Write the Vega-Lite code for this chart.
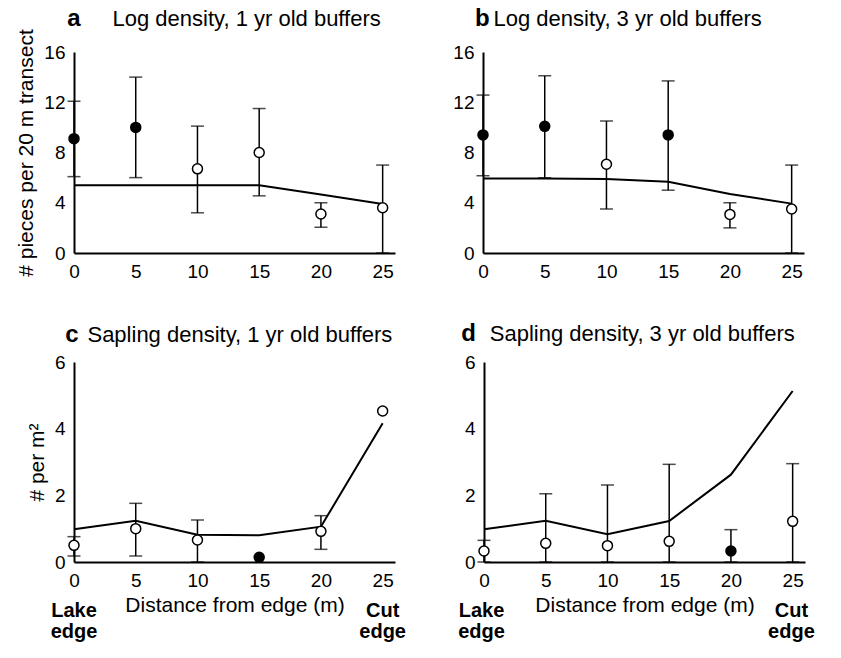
{
  "$schema": "https://vega.github.io/schema/vega-lite/v6.json",
  "background": "white",
  "padding": {"left": 15, "top": 7, "right": 0, "bottom": 0},
  "data": {"values": [
    {"p": "a", "x": 0, "m": 9.1, "lo": 6.08, "hi": 12.08, "t": "filled", "fit": 5.4},
    {"p": "a", "x": 5, "m": 10.0, "lo": 6.0, "hi": 14.0, "t": "filled", "fit": 5.4},
    {"p": "a", "x": 10, "m": 6.7, "lo": 3.2, "hi": 10.1, "t": "open", "fit": 5.4},
    {"p": "a", "x": 15, "m": 8.0, "lo": 4.55, "hi": 11.5, "t": "open", "fit": 5.4},
    {"p": "a", "x": 20, "m": 3.1, "lo": 2.05, "hi": 4.0, "t": "open", "fit": 4.65},
    {"p": "a", "x": 25, "m": 3.6, "lo": 0, "hi": 7.0, "t": "open", "fit": 3.9},
    {"p": "b", "x": 0, "m": 9.4, "lo": 6.15, "hi": 12.57, "t": "filled", "fit": 5.94},
    {"p": "b", "x": 5, "m": 10.08, "lo": 6.0, "hi": 14.1, "t": "filled", "fit": 5.94},
    {"p": "b", "x": 10, "m": 7.06, "lo": 3.5, "hi": 10.5, "t": "open", "fit": 5.9},
    {"p": "b", "x": 15, "m": 9.4, "lo": 5.0, "hi": 13.7, "t": "filled", "fit": 5.67},
    {"p": "b", "x": 20, "m": 3.07, "lo": 2.0, "hi": 4.0, "t": "open", "fit": 4.7},
    {"p": "b", "x": 25, "m": 3.5, "lo": 0, "hi": 7.0, "t": "open", "fit": 3.93},
    {"p": "c", "x": 0, "m": 0.5, "lo": 0.18, "hi": 0.76, "t": "open", "fit": 0.98},
    {"p": "c", "x": 5, "m": 1.0, "lo": 0.18, "hi": 1.76, "t": "open", "fit": 1.24},
    {"p": "c", "x": 10, "m": 0.66, "lo": 0, "hi": 1.26, "t": "open", "fit": 0.82},
    {"p": "c", "x": 15, "m": 0.14, "lo": null, "hi": null, "t": "filled", "fit": 0.8},
    {"p": "c", "x": 20, "m": 0.92, "lo": 0.38, "hi": 1.39, "t": "open", "fit": 1.06},
    {"p": "c", "x": 25, "m": 4.53, "lo": null, "hi": null, "t": "open", "fit": 4.16},
    {"p": "d", "x": 0, "m": 0.33, "lo": 0, "hi": 0.65, "t": "open", "fit": 0.98},
    {"p": "d", "x": 5, "m": 0.56, "lo": 0, "hi": 2.05, "t": "open", "fit": 1.24},
    {"p": "d", "x": 10, "m": 0.49, "lo": 0, "hi": 2.31, "t": "open", "fit": 0.83},
    {"p": "d", "x": 15, "m": 0.62, "lo": 0, "hi": 2.93, "t": "open", "fit": 1.23},
    {"p": "d", "x": 20, "m": 0.33, "lo": 0, "hi": 0.97, "t": "filled", "fit": 2.62},
    {"p": "d", "x": 25, "m": 1.22, "lo": 0, "hi": 2.95, "t": "open", "fit": 5.13}
  ]},
  "vconcat": [
    {"spacing": 57, "hconcat": [
      {"width": 321, "height": 201, "layer": [
        {"transform": [{"filter": "datum.p == 'a'"}], "mark": {"type": "line", "color": "black", "strokeWidth": 2},
         "encoding": {"x": {"field": "x", "type": "quantitative", "scale": {"domain": [0, 25]}, "axis": {"values": [0, 5, 10, 15, 20, 25], "title": null, "labelFlush": false}},
                      "y": {"field": "fit", "type": "quantitative", "scale": {"domain": [0, 16]}, "axis": {"values": [0, 4, 8, 12, 16], "title": "# pieces per 20 m transect"}}}},
        {"transform": [{"filter": "datum.p == 'a' && datum.lo != null"}], "mark": {"type": "rule", "color": "black", "strokeWidth": 1.5},
         "encoding": {"x": {"field": "x", "type": "quantitative"}, "y": {"field": "lo", "type": "quantitative", "axis": {"values": [0, 4, 8, 12, 16], "title": "# pieces per 20 m transect"}}, "y2": {"field": "hi"}}},
        {"transform": [{"filter": "datum.p == 'a' && datum.lo != null"}], "mark": {"type": "tick", "orient": "horizontal", "size": 13, "thickness": 1.5, "color": "black"},
         "encoding": {"x": {"field": "x", "type": "quantitative"}, "y": {"field": "lo", "type": "quantitative", "axis": {"values": [0, 4, 8, 12, 16], "title": "# pieces per 20 m transect"}}}},
        {"transform": [{"filter": "datum.p == 'a' && datum.hi != null"}], "mark": {"type": "tick", "orient": "horizontal", "size": 13, "thickness": 1.5, "color": "black"},
         "encoding": {"x": {"field": "x", "type": "quantitative"}, "y": {"field": "hi", "type": "quantitative", "axis": {"values": [0, 4, 8, 12, 16], "title": "# pieces per 20 m transect"}}}},
        {"transform": [{"filter": "datum.p == 'a'"}], "mark": {"type": "point", "shape": "circle", "filled": true, "size": 100, "stroke": "black", "strokeWidth": 1.5, "opacity": 1},
         "encoding": {"x": {"field": "x", "type": "quantitative"}, "y": {"field": "m", "type": "quantitative", "axis": {"values": [0, 4, 8, 12, 16], "title": "# pieces per 20 m transect"}},
                      "fill": {"field": "t", "type": "nominal", "scale": {"domain": ["open", "filled"], "range": ["white", "black"]}, "legend": null}}},
        {"data": {"values": [{"s": "a"}]}, "mark": {"type": "text", "fontWeight": "bold", "fontSize": 24, "align": "center", "baseline": "alphabetic", "color": "black"},
         "encoding": {"x": {"datum": 0, "type": "quantitative"}, "y": {"datum": 18.05, "type": "quantitative"}, "text": {"field": "s"}}},
        {"data": {"values": [{"s": "Log density, 1 yr old buffers"}]}, "mark": {"type": "text", "fontSize": 22, "align": "left", "baseline": "alphabetic", "color": "black"},
         "encoding": {"x": {"datum": 3.12, "type": "quantitative"}, "y": {"datum": 18.05, "type": "quantitative"}, "text": {"field": "s"}}}
      ]},
      {"width": 321, "height": 201, "layer": [
        {"transform": [{"filter": "datum.p == 'b'"}], "mark": {"type": "line", "color": "black", "strokeWidth": 2},
         "encoding": {"x": {"field": "x", "type": "quantitative", "scale": {"domain": [0, 25]}, "axis": {"values": [0, 5, 10, 15, 20, 25], "title": null, "labelFlush": false}},
                      "y": {"field": "fit", "type": "quantitative", "scale": {"domain": [0, 16]}, "axis": {"values": [0, 4, 8, 12, 16], "title": null}}}},
        {"transform": [{"filter": "datum.p == 'b' && datum.lo != null"}], "mark": {"type": "rule", "color": "black", "strokeWidth": 1.5},
         "encoding": {"x": {"field": "x", "type": "quantitative"}, "y": {"field": "lo", "type": "quantitative", "axis": {"values": [0, 4, 8, 12, 16], "title": null}}, "y2": {"field": "hi"}}},
        {"transform": [{"filter": "datum.p == 'b' && datum.lo != null"}], "mark": {"type": "tick", "orient": "horizontal", "size": 13, "thickness": 1.5, "color": "black"},
         "encoding": {"x": {"field": "x", "type": "quantitative"}, "y": {"field": "lo", "type": "quantitative", "axis": {"values": [0, 4, 8, 12, 16], "title": null}}}},
        {"transform": [{"filter": "datum.p == 'b' && datum.hi != null"}], "mark": {"type": "tick", "orient": "horizontal", "size": 13, "thickness": 1.5, "color": "black"},
         "encoding": {"x": {"field": "x", "type": "quantitative"}, "y": {"field": "hi", "type": "quantitative", "axis": {"values": [0, 4, 8, 12, 16], "title": null}}}},
        {"transform": [{"filter": "datum.p == 'b'"}], "mark": {"type": "point", "shape": "circle", "filled": true, "size": 100, "stroke": "black", "strokeWidth": 1.5, "opacity": 1},
         "encoding": {"x": {"field": "x", "type": "quantitative"}, "y": {"field": "m", "type": "quantitative", "axis": {"values": [0, 4, 8, 12, 16], "title": null}},
                      "fill": {"field": "t", "type": "nominal", "scale": {"domain": ["open", "filled"], "range": ["white", "black"]}, "legend": null}}},
        {"data": {"values": [{"s": "b"}]}, "mark": {"type": "text", "fontWeight": "bold", "fontSize": 24, "align": "center", "baseline": "alphabetic", "color": "black"},
         "encoding": {"x": {"datum": -0.05, "type": "quantitative"}, "y": {"datum": 18.05, "type": "quantitative"}, "text": {"field": "s"}}},
        {"data": {"values": [{"s": "Log density, 3 yr old buffers"}]}, "mark": {"type": "text", "fontSize": 22, "align": "left", "baseline": "alphabetic", "color": "black"},
         "encoding": {"x": {"datum": 0.85, "type": "quantitative"}, "y": {"datum": 18.05, "type": "quantitative"}, "text": {"field": "s"}}}
      ]}
    ]},
    {"spacing": 52, "hconcat": [
      {"width": 321, "height": 200, "layer": [
        {"transform": [{"filter": "datum.p == 'c'"}], "mark": {"type": "line", "color": "black", "strokeWidth": 2},
         "encoding": {"x": {"field": "x", "type": "quantitative", "scale": {"domain": [0, 25]}, "axis": {"values": [0, 5, 10, 15, 20, 25], "title": "Distance from edge (m)", "labelFlush": false}},
                      "y": {"field": "fit", "type": "quantitative", "scale": {"domain": [0, 6]}, "axis": {"values": [0, 2, 4, 6], "title": "# per m²"}}}},
        {"transform": [{"filter": "datum.p == 'c' && datum.lo != null"}], "mark": {"type": "rule", "color": "black", "strokeWidth": 1.5},
         "encoding": {"x": {"field": "x", "type": "quantitative"}, "y": {"field": "lo", "type": "quantitative", "axis": {"values": [0, 2, 4, 6], "title": "# per m²"}}, "y2": {"field": "hi"}}},
        {"transform": [{"filter": "datum.p == 'c' && datum.lo != null"}], "mark": {"type": "tick", "orient": "horizontal", "size": 13, "thickness": 1.5, "color": "black"},
         "encoding": {"x": {"field": "x", "type": "quantitative"}, "y": {"field": "lo", "type": "quantitative", "axis": {"values": [0, 2, 4, 6], "title": "# per m²"}}}},
        {"transform": [{"filter": "datum.p == 'c' && datum.hi != null"}], "mark": {"type": "tick", "orient": "horizontal", "size": 13, "thickness": 1.5, "color": "black"},
         "encoding": {"x": {"field": "x", "type": "quantitative"}, "y": {"field": "hi", "type": "quantitative", "axis": {"values": [0, 2, 4, 6], "title": "# per m²"}}}},
        {"transform": [{"filter": "datum.p == 'c'"}], "mark": {"type": "point", "shape": "circle", "filled": true, "size": 100, "stroke": "black", "strokeWidth": 1.5, "opacity": 1},
         "encoding": {"x": {"field": "x", "type": "quantitative"}, "y": {"field": "m", "type": "quantitative", "axis": {"values": [0, 2, 4, 6], "title": "# per m²"}},
                      "fill": {"field": "t", "type": "nominal", "scale": {"domain": ["open", "filled"], "range": ["white", "black"]}, "legend": null}}},
        {"data": {"values": [{"s": "c"}]}, "mark": {"type": "text", "fontWeight": "bold", "fontSize": 24, "align": "center", "baseline": "alphabetic", "color": "black"},
         "encoding": {"x": {"datum": -0.16, "type": "quantitative"}, "y": {"datum": 6.6, "type": "quantitative"}, "text": {"field": "s"}}},
        {"data": {"values": [{"s": "Sapling density, 1 yr old buffers"}]}, "mark": {"type": "text", "fontSize": 22, "align": "left", "baseline": "alphabetic", "color": "black"},
         "encoding": {"x": {"datum": 1.09, "type": "quantitative"}, "y": {"datum": 6.6, "type": "quantitative"}, "text": {"field": "s"}}},
        {"data": {"values": [{"s": "Lake", "xx": 0, "yy": -1.65}, {"s": "edge", "xx": 0, "yy": -2.28}, {"s": "Cut", "xx": 25, "yy": -1.65}, {"s": "edge", "xx": 25, "yy": -2.28}]}, "mark": {"type": "text", "fontWeight": "bold", "fontSize": 20, "align": "center", "baseline": "alphabetic", "color": "black"},
         "encoding": {"x": {"field": "xx", "type": "quantitative"}, "y": {"field": "yy", "type": "quantitative"}, "text": {"field": "s"}}}
      ]},
      {"width": 321, "height": 200, "layer": [
        {"transform": [{"filter": "datum.p == 'd'"}], "mark": {"type": "line", "color": "black", "strokeWidth": 2},
         "encoding": {"x": {"field": "x", "type": "quantitative", "scale": {"domain": [0, 25]}, "axis": {"values": [0, 5, 10, 15, 20, 25], "title": "Distance from edge (m)", "labelFlush": false}},
                      "y": {"field": "fit", "type": "quantitative", "scale": {"domain": [0, 6]}, "axis": {"values": [0, 2, 4, 6], "title": null}}}},
        {"transform": [{"filter": "datum.p == 'd' && datum.lo != null"}], "mark": {"type": "rule", "color": "black", "strokeWidth": 1.5},
         "encoding": {"x": {"field": "x", "type": "quantitative"}, "y": {"field": "lo", "type": "quantitative", "axis": {"values": [0, 2, 4, 6], "title": null}}, "y2": {"field": "hi"}}},
        {"transform": [{"filter": "datum.p == 'd' && datum.lo != null"}], "mark": {"type": "tick", "orient": "horizontal", "size": 13, "thickness": 1.5, "color": "black"},
         "encoding": {"x": {"field": "x", "type": "quantitative"}, "y": {"field": "lo", "type": "quantitative", "axis": {"values": [0, 2, 4, 6], "title": null}}}},
        {"transform": [{"filter": "datum.p == 'd' && datum.hi != null"}], "mark": {"type": "tick", "orient": "horizontal", "size": 13, "thickness": 1.5, "color": "black"},
         "encoding": {"x": {"field": "x", "type": "quantitative"}, "y": {"field": "hi", "type": "quantitative", "axis": {"values": [0, 2, 4, 6], "title": null}}}},
        {"transform": [{"filter": "datum.p == 'd'"}], "mark": {"type": "point", "shape": "circle", "filled": true, "size": 100, "stroke": "black", "strokeWidth": 1.5, "opacity": 1},
         "encoding": {"x": {"field": "x", "type": "quantitative"}, "y": {"field": "m", "type": "quantitative", "axis": {"values": [0, 2, 4, 6], "title": null}},
                      "fill": {"field": "t", "type": "nominal", "scale": {"domain": ["open", "filled"], "range": ["white", "black"]}, "legend": null}}},
        {"data": {"values": [{"s": "d"}]}, "mark": {"type": "text", "fontWeight": "bold", "fontSize": 24, "align": "center", "baseline": "alphabetic", "color": "black"},
         "encoding": {"x": {"datum": -1.24, "type": "quantitative"}, "y": {"datum": 6.63, "type": "quantitative"}, "text": {"field": "s"}}},
        {"data": {"values": [{"s": "Sapling density, 3 yr old buffers"}]}, "mark": {"type": "text", "fontSize": 22, "align": "left", "baseline": "alphabetic", "color": "black"},
         "encoding": {"x": {"datum": 0.47, "type": "quantitative"}, "y": {"datum": 6.63, "type": "quantitative"}, "text": {"field": "s"}}},
        {"data": {"values": [{"s": "Lake", "xx": -0.2, "yy": -1.65}, {"s": "edge", "xx": -0.2, "yy": -2.28}, {"s": "Cut", "xx": 24.9, "yy": -1.65}, {"s": "edge", "xx": 24.9, "yy": -2.28}]}, "mark": {"type": "text", "fontWeight": "bold", "fontSize": 20, "align": "center", "baseline": "alphabetic", "color": "black"},
         "encoding": {"x": {"field": "xx", "type": "quantitative"}, "y": {"field": "yy", "type": "quantitative"}, "text": {"field": "s"}}}
      ]}
    ]}
  ],
  "spacing": 41,
  "config": {
    "view": {"stroke": null},
    "font": "Liberation Sans",
    "axis": {"domainColor": "black", "domainWidth": 2, "ticks": false, "grid": false, "labelFont": "Liberation Sans", "labelFontSize": 19, "labelColor": "black", "labelPadding": 9, "titleFont": "Liberation Sans", "titleFontSize": 21, "titleFontWeight": "normal", "titleColor": "black", "titlePadding": 7},
    "axisX": {"titlePadding": 4}
  }
}
